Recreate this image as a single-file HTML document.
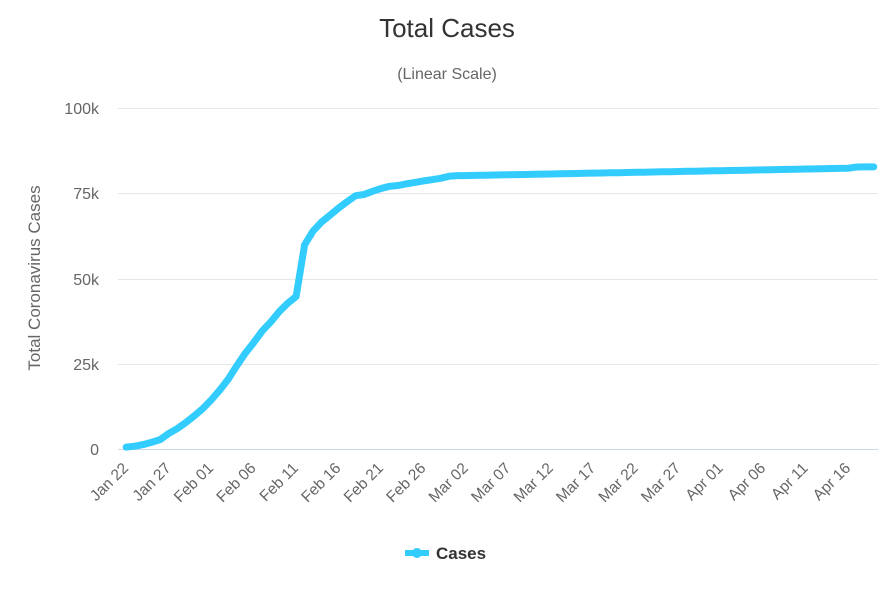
<!DOCTYPE html>
<html><head><meta charset="utf-8"><style>
html,body{margin:0;padding:0;background:#fff;}
svg{display:block;font-family:"Liberation Sans",sans-serif;}
</style></head><body>
<svg id="c" width="892" height="600" xmlns="http://www.w3.org/2000/svg">
<text x="447" y="37" text-anchor="middle" font-size="26" fill="#333">Total Cases</text>
<text x="447" y="79" text-anchor="middle" font-size="16" fill="#666">(Linear Scale)</text>
<g stroke="#e6e6e6" stroke-width="1">
<line x1="118" y1="108.5" x2="878" y2="108.5"/>
<line x1="118" y1="193.5" x2="878" y2="193.5"/>
<line x1="118" y1="279.5" x2="878" y2="279.5"/>
<line x1="118" y1="364.5" x2="878" y2="364.5"/>
</g>
<line x1="118" y1="449.5" x2="878" y2="449.5" stroke="#ccd6eb" stroke-width="1"/>
<g font-size="16" fill="#666" text-anchor="end">
<text x="99" y="114">100k</text>
<text x="99" y="199">75k</text>
<text x="99" y="285">50k</text>
<text x="99" y="370">25k</text>
<text x="99" y="455">0</text>
</g>
<text transform="translate(40,278) rotate(-90)" text-anchor="middle" font-size="17" fill="#666">Total Coronavirus Cases</text>
<g id="xl" font-size="15.5" fill="#666" text-anchor="end"></g>
<path id="ln" fill="none" stroke="#33ccff" stroke-width="7" stroke-linejoin="round" stroke-linecap="round"/>
<line x1="405" y1="553" x2="429" y2="553" stroke="#33ccff" stroke-width="6"/>
<circle cx="417" cy="553" r="5" fill="#33ccff"/>
<text x="436" y="559" font-size="17" font-weight="bold" fill="#333">Cases</text>
</svg>
<script>
var d=[571,830,1297,1985,2761,4537,5997,7736,9720,11821,14411,17238,20471,24363,28060,31211,34598,37251,40235,42708,44730,59882,63932,66576,68584,70635,72528,74279,74675,75569,76392,77041,77262,77779,78190,78630,78959,79389,79968,80174];
for(var i=40;i<86;i++)d[i]=80174+(i-40)*(82341-80174)/45;
d[86]=82692;d[87]=82719;d[88]=82735;
var w=756/89,p="";
function X(i){return 122+w*(i+0.5);}
for(var i=0;i<d.length;i++){p+=(i?"L":"M")+X(i).toFixed(1)+" "+(449-d[i]*341/100000).toFixed(1);}
document.getElementById("ln").setAttribute("d",p);
var labs=["Jan 22","Jan 27","Feb 01","Feb 06","Feb 11","Feb 16","Feb 21","Feb 26","Mar 02","Mar 07","Mar 12","Mar 17","Mar 22","Mar 27","Apr 01","Apr 06","Apr 11","Apr 16"];
var g=document.getElementById("xl"),s="";
for(var k=0;k<labs.length;k++){var x=X(k*5)+3,y=469;s+='<text transform="translate('+x.toFixed(1)+','+y+') rotate(-45)">'+labs[k]+'</text>';}
g.innerHTML=s;
</script>
</body></html>
